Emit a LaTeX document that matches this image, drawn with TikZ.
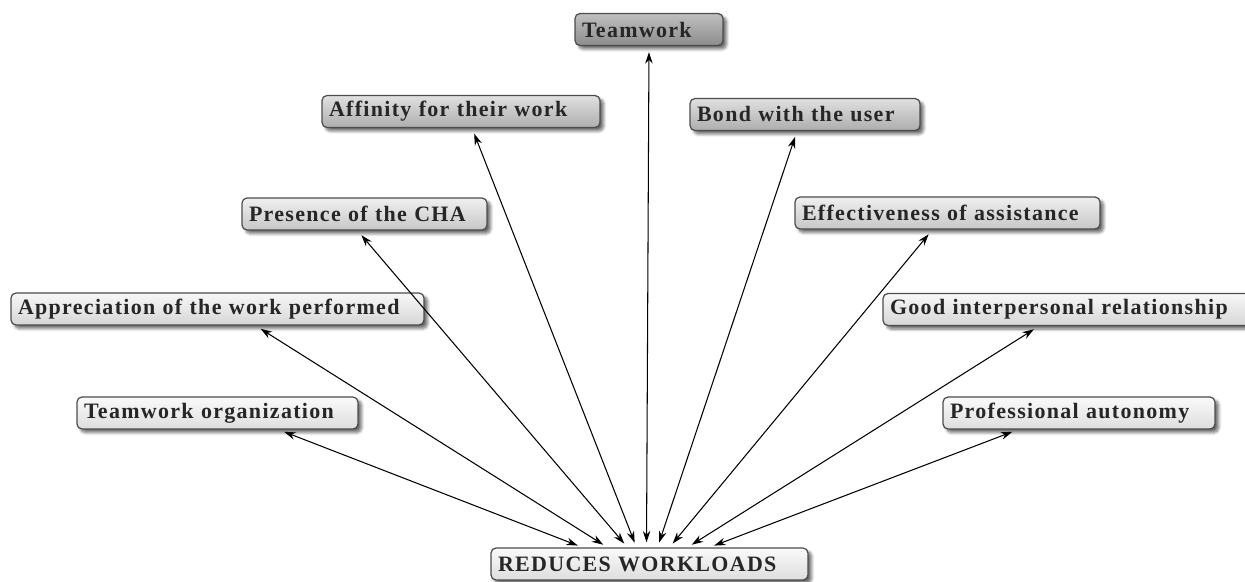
\documentclass[tikz,border=0pt]{standalone}
\usepackage{fontspec}
\newfontfamily\boxfont{Liberation Serif}[LetterSpace=6]
\usepackage{tikz}
\usetikzlibrary{arrows.meta, shadows.blur}

\begin{document}
\begin{tikzpicture}[<->, >={Stealth[length=2.3mm, width=1.5mm]}, line width=0.6pt,
    box/.style={draw=black!70, line width=0.7pt, rounded corners=0.1cm, inner xsep=0.14cm,
        text width=#1, align=left, minimum height=0.64cm, text=black!85,
        font=\boxfont\bfseries\fontsize{12.5}{14}\selectfont,
        blur shadow={shadow xshift=0.07cm, shadow yshift=-0.07cm, shadow blur steps=6, shadow opacity=60}},
    tierA/.style={top color=black!25, bottom color=black!45},
    tierB/.style={top color=black!12, bottom color=black!32},
    tierC/.style={top color=black!6, bottom color=black!22},
    tierD/.style={top color=black!3, bottom color=black!16},
    tierE/.style={top color=black!2, bottom color=black!13}]
    \useasboundingbox (0, 0) rectangle (24.9, 11.62);
        \node [box=2.68cm, tierA] (teamwork) at (12.98, 11.03) {Teamwork};
        \node [box=5.28cm, tierB] (affinity) at (9.22, 9.39) {Affinity for their work};
        \node [box=4.32cm, tierB] (bond) at (16.10, 9.33) {Bond with the user};
        \node [box=4.62cm, tierC] (presence) at (7.29, 7.34) {Presence of the CHA};
        \node [box=5.82cm, tierC] (effect) at (18.95, 7.36) {Effectiveness of assistance};
        \node [box=7.98cm, tierD] (apprec) at (4.35, 5.44) {Appreciation of the work performed};
        \node [box=7.12cm, tierD] (good) at (21.36, 5.43) {Good interpersonal relationship};
        \node [box=5.34cm, tierE] (teamorg) at (4.35, 3.36) {Teamwork organization};
        \node [box=5.16cm, tierE] (autonomy) at (21.58, 3.36) {Professional autonomy};
        \node [box=6.06cm, tierE] (reduce) at (12.99, 0.34) {REDUCES WORKLOADS};
        \path [shorten <=0.1cm, shorten >=0.12cm] ([xshift=-1.34cm]reduce.north) edge ([xshift=1.22cm]teamorg.south);
        \path [shorten <=0.1cm, shorten >=0.12cm] ([xshift=-0.84cm]reduce.north) edge ([xshift=0.76cm]apprec.south);
        \path [shorten <=0.1cm, shorten >=0.12cm] ([xshift=-0.44cm]reduce.north) edge ([xshift=-0.14cm]presence.south);
        \path [shorten <=0.1cm, shorten >=0.12cm] ([xshift=-0.26cm]reduce.north) edge ([xshift=0.22cm]affinity.south);
        \path [shorten <=0.1cm, shorten >=0.12cm] ([xshift=-0.06cm]reduce.north) edge ([xshift=0cm]teamwork.south);
        \path [shorten <=0.1cm, shorten >=0.12cm] ([xshift=0.16cm]reduce.north) edge ([xshift=-0.16cm]bond.south);
        \path [shorten <=0.1cm, shorten >=0.12cm] ([xshift=0.40cm]reduce.north) edge ([xshift=-0.30cm]effect.south);
        \path [shorten <=0.1cm, shorten >=0.12cm] ([xshift=0.76cm]reduce.north) edge ([xshift=-0.58cm]good.south);
        \path [shorten <=0.1cm, shorten >=0.12cm] ([xshift=1.20cm]reduce.north) edge ([xshift=-1.22cm]autonomy.south);
    \end{tikzpicture}
\end{document}
